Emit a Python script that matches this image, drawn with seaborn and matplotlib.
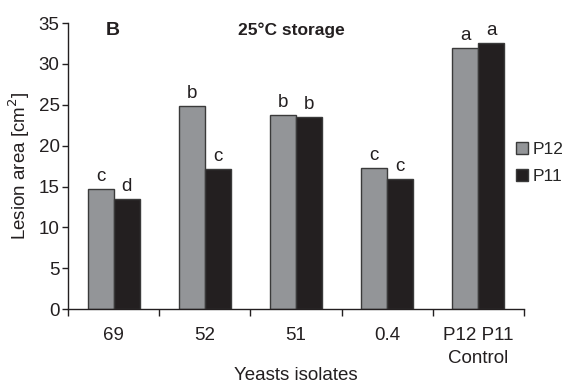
import numpy as np
import pandas as pd
import seaborn as sns
import matplotlib.pyplot as plt

# ---------------- datos ----------------
isolates = ['69', '52', '51', '0.4', 'P12 P11\nControl']
p12 = [14.7, 24.8, 23.7, 17.3, 31.9]
p11 = [13.5, 17.1, 23.5, 15.9, 32.6]
letras_p12 = ['c', 'b', 'b', 'c', 'a']
letras_p11 = ['d', 'c', 'b', 'c', 'a']
series = ['P12', 'P11']

df = pd.DataFrame({
    'Isolate': isolates * 2,
    'Serie': ['P12'] * len(isolates) + ['P11'] * len(isolates),
    'Area': p12 + p11,
})

sns.set_style('white')
plt.rcParams['font.family'] = ['Liberation Sans', 'DejaVu Sans']

fs = 13.5
fig = plt.figure(figsize=(5.67, 3.85), dpi=100)
ax = fig.add_axes([0.12, 0.197, 0.804, 0.743])

colores = {'P12': '#939598', 'P11': '#231f20'}
sns.barplot(data=df, x='Isolate', y='Area', hue='Serie', hue_order=series,
            palette=colores, width=0.57, edgecolor='#3a3a3a', linewidth=1,
            saturation=1, ax=ax, legend=True)

# letras sobre las barras
for cont, letras in zip(ax.containers, [letras_p12, letras_p11]):
    for barra, l in zip(cont, letras):
        ax.text(barra.get_x() + barra.get_width() / 2, barra.get_height() + 0.5, l,
                ha='center', va='bottom', fontsize=fs, color='#231f20')

ax.set_ylim(0, 35)
ax.set_xlim(-0.5, 4.5)
ax.set_yticks(range(0, 36, 5))
ax.tick_params(axis='y', labelsize=fs, length=4, width=1, pad=2, direction='out', left=True, colors='#231f20')

# ticks del eje x entre grupos, etiquetas en el centro
ax.set_xticks(np.arange(-0.5, 5.0, 1.0))
ax.set_xticklabels([])
ax.set_xticks(range(len(isolates)), minor=True)
ax.set_xticklabels(isolates, minor=True, fontsize=fs, color='#231f20', linespacing=1.45)
ax.tick_params(axis='x', which='major', length=5, width=1, direction='out', bottom=True, colors='#231f20')
ax.tick_params(axis='x', which='minor', length=0, pad=13)

for s in ['top', 'right']:
    ax.spines[s].set_visible(False)
for s in ['left', 'bottom']:
    ax.spines[s].set_color('#231f20')
    ax.spines[s].set_linewidth(1)

ax.set_xlabel('Yeasts isolates', fontsize=fs, color='#231f20', labelpad=0)
ax.set_ylabel('Lesion area [cm$^2$]', fontsize=fs, color='#231f20', labelpad=5)

ax.text(0.083, 0.975, 'B', transform=ax.transAxes, fontsize=14, fontweight='bold',
        va='center', ha='left', color='#231f20')
ax.text(0.49, 0.975, '25°C storage', transform=ax.transAxes, fontsize=12.5, fontweight='bold',
        va='center', ha='center', color='#231f20')

ax.legend(frameon=False, loc='center left', bbox_to_anchor=(0.968, 0.51),
          fontsize=12.5, handlelength=0.7, handleheight=0.7, handletextpad=0.25,
          labelspacing=0.7, borderaxespad=0)

fig.savefig('out.png', dpi=100)
